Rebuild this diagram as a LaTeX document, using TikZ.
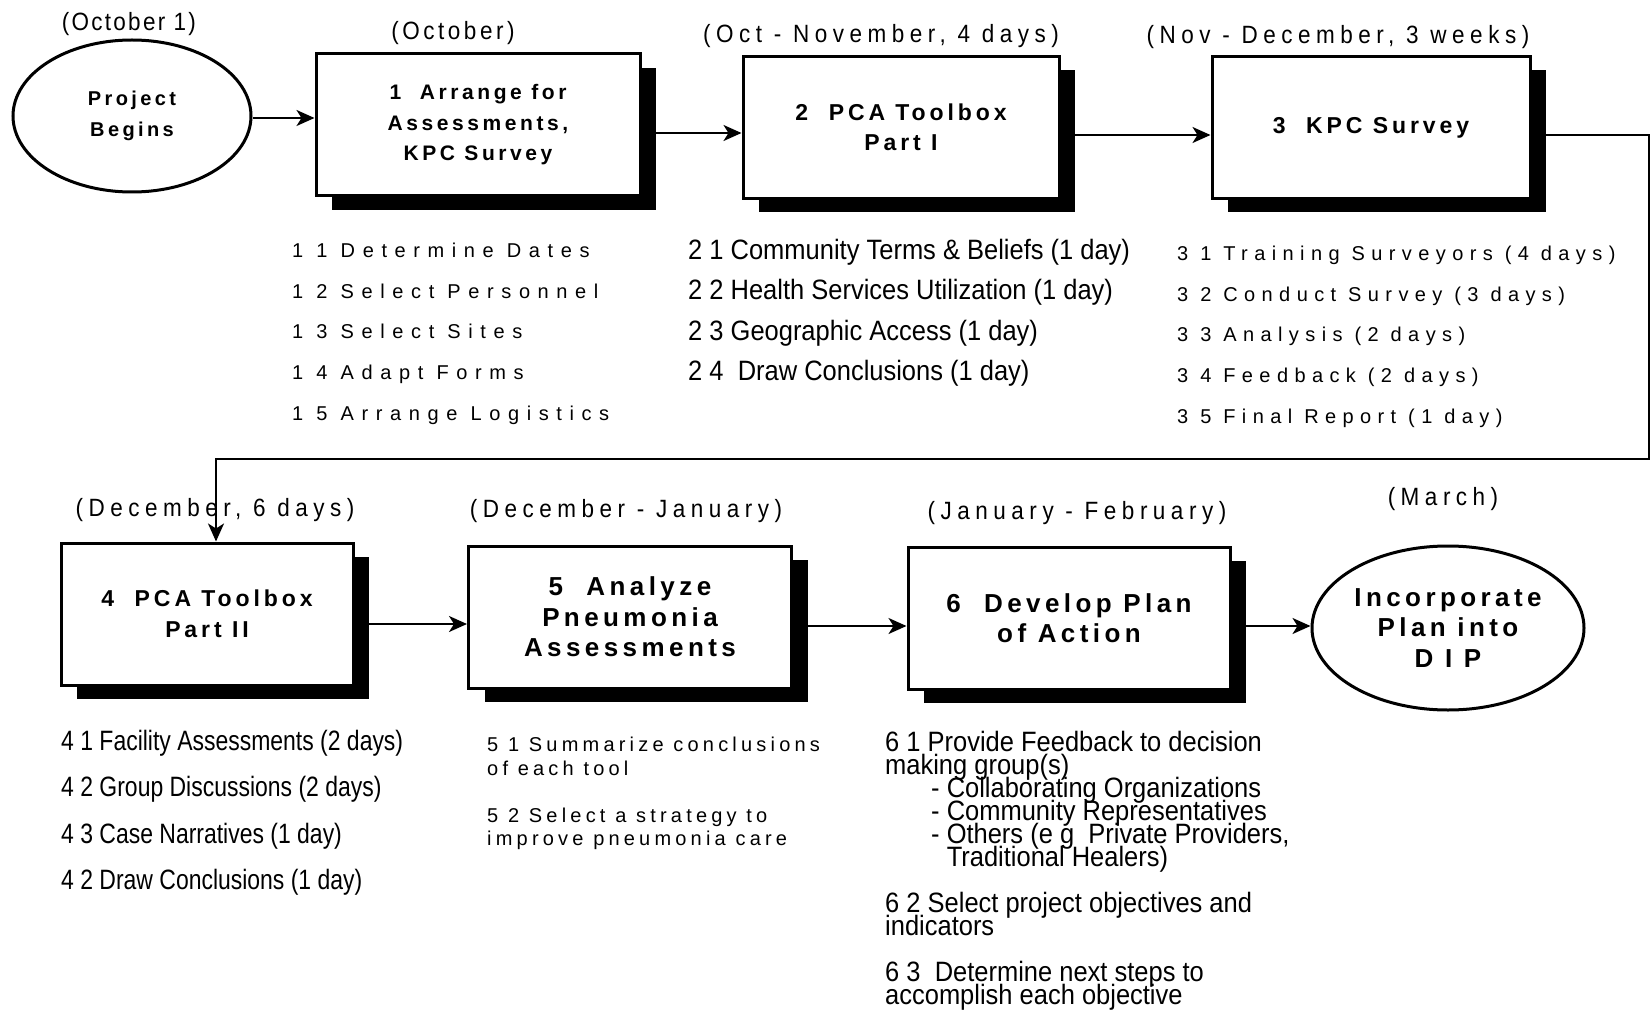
\documentclass[tikz,border=0pt]{standalone}
\usepackage{fontspec}
\setmainfont{Liberation Sans}
\newfontfamily\boxfont{Liberation Sans}[LetterSpace=17]
\newfontfamily\datefont{Liberation Sans}[FakeStretch=0.9, LetterSpace=22]
\newfontfamily\widefont{Liberation Sans}[LetterSpace=38]
\newfontfamily\spacedfont{Liberation Sans}[LetterSpace=32]
\newfontfamily\midfont{Liberation Sans}[LetterSpace=21]
\newfontfamily\narrowfont{Liberation Sans}[FakeStretch=0.91]
\newfontfamily\tightfont{Liberation Sans}[FakeStretch=0.82]
\newcommand{\overlaplines}{\lineskiplimit=-100pt\relax}
\usetikzlibrary{calc, arrows.meta, shapes.geometric, shadows}

\begin{document}
\begin{tikzpicture}[
  x=1pt, y=-1pt,
  arrow/.style={-{Stealth[length=18pt, width=16pt, inset=5pt]}, line width=2pt},
  phase/.style={draw, line width=3pt, fill=white, inner sep=0pt,
                minimum height=142pt, align=center,
                font=\boxfont\bfseries\fontsize{23}{30.5}\selectfont,
                drop shadow={shadow xshift=16pt, shadow yshift=-14pt,
                             fill=black, opacity=1}},
  event/.style={ellipse, draw, line width=3pt, inner sep=0pt, align=center,
                font=\boxfont\bfseries\fontsize{20}{31}\selectfont},
  bigtext/.style={font=\boxfont\bfseries\fontsize{26}{30.5}\selectfont},
  when/.style={inner sep=0pt, font=\datefont\fontsize{25}{28}\selectfont},
  widelist/.style={anchor=north west, inner sep=0pt, align=left,
                   font=\widefont\fontsize{20}{40.6}\selectfont},
  midlist/.style={anchor=north west, inner sep=0pt, align=left,
                  font=\midfont\fontsize{20}{23.5}\selectfont},
  narrowlist/.style={anchor=north west, inner sep=0pt, align=left,
                     font=\narrowfont\fontsize{28}{40.4}\selectfont},
  tightlist/.style={anchor=north west, inner sep=0pt, align=left,
                    font=\tightfont\fontsize{28}{46.3}\selectfont}
]
\useasboundingbox (0,0) rectangle (1652,1011);

% --- Top row ---
\node[event, minimum width=238pt, minimum height=152pt] (start) at (132,116) {Project\\Begins};
\node[phase, minimum width=324pt, font=\boxfont\bfseries\fontsize{21}{30.5}\selectfont] (arrange) at (478,125) {1~ Arrange for\\Assessments,\\KPC Survey};
\node[phase, minimum width=316pt] (toolboxA) at (901,127.5) {2~ PCA Toolbox\\Part I};
\node[phase, minimum width=318pt] (kpc) at (1371,127.5) {3~ KPC Survey};

\node[when] (dStart) at (129,24) {\addfontfeature{LetterSpace=9}(October 1)};
\node[when] (dArrange) at (453,33) {\addfontfeature{LetterSpace=14}(October)};
\node[when] (dToolboxA) at (881,36) {(Oct - November, 4 days)};
\node[when] (dKpc) at (1338,37) {(Nov - December, 3 weeks)};

\draw[arrow] ([yshift=-2pt]start.east) -- ([yshift=7pt]arrange.west);
\draw[arrow] ([yshift=-8pt]arrange.east) -- ([yshift=-5.5pt]toolboxA.west);
\draw[arrow] ([yshift=-7.5pt]toolboxA.east) -- ([yshift=-7.5pt]kpc.west);

% --- Sub-steps of the top row ---
\node[widelist] (stepsArrange) at (292,243) {1 1 Determine Dates\\1 2 Select Personnel\\1 3 Select Sites\\1 4 Adapt Forms\\1 5 Arrange Logistics};
\node[narrowlist] (stepsToolboxA) at (688,239) {2 1 Community Terms \& Beliefs (1 day)\\2 2 Health Services Utilization (1 day)\\2 3 Geographic Access (1 day)\\2 4~ Draw Conclusions (1 day)};
\node[widelist, font=\spacedfont\fontsize{20}{40.6}\selectfont] (stepsKpc) at (1177,246) {3 1 Training Surveyors (4 days)\\3 2 Conduct Survey (3 days)\\3 3 Analysis (2 days)\\3 4 Feedback (2 days)\\3 5 Final Report (1 day)};

% --- Bottom row ---
\node[phase, minimum width=292pt] (toolboxB) at (207,614) {4~ PCA Toolbox\\Part II};
\node[phase, bigtext, minimum width=323pt] (analyze) at (630,617) {5~ Analyze\\Pneumonia\\Assessments};
\node[phase, bigtext, minimum width=322pt] (plan) at (1069,618) {6~ Develop Plan\\of Action};
\node[event, bigtext, minimum width=272pt, minimum height=164pt] (dip) at (1448,628) {Incorporate\\Plan into\\D I P};

\node[when] (dToolboxB) at (215,510) {(December, 6 days)};
\node[when] (dAnalyze) at (626,511) {(December - January)};
\node[when] (dPlan) at (1077,513) {(January - February)};
\node[when] (dDip) at (1443,499) {(March)};

% --- Wrap-around connector to the second row ---
\coordinate (wrap) at (1649,459);
\draw[arrow] ([yshift=-7.5pt]kpc.east) -| (wrap) -| ([xshift=9pt]toolboxB.north);

\draw[arrow] ([yshift=-10pt]toolboxB.east) -- ([yshift=-7pt]analyze.west);
\draw[arrow] ([yshift=-9pt]analyze.east) -- ([yshift=-8pt]plan.west);
\draw[arrow] ([yshift=-8pt]plan.east) -- ([yshift=2pt]dip.west);

% --- Sub-steps of the bottom row ---
\node[tightlist] (stepsToolboxB) at (61,730) {4 1 Facility Assessments (2 days)\\4 2 Group Discussions (2 days)\\4 3 Case Narratives (1 day)\\4 2 Draw Conclusions (1 day)};
\node[midlist] (stepsAnalyze) at (487,737) {5 1 Summarize conclusions\\of each tool\\[23.5pt]5 2 Select a strategy to\\improve pneumonia care};
\node[narrowlist, font=\narrowfont\fontsize{28}{23}\selectfont\overlaplines] (stepsPlan) at (885,731)
  {6 1 Provide Feedback to decision\\making group(s)\\
   \hspace*{46pt}- Collaborating Organizations\\
   \hspace*{46pt}- Community Representatives\\
   \hspace*{46pt}- Others (e g~ Private Providers,\\
   \hspace*{46pt}\phantom{- }Traditional Healers)\\[23pt]
   6 2 Select project objectives and\\indicators\\[23pt]
   6 3~ Determine next steps to\\accomplish each objective};

\end{tikzpicture}
\end{document}
